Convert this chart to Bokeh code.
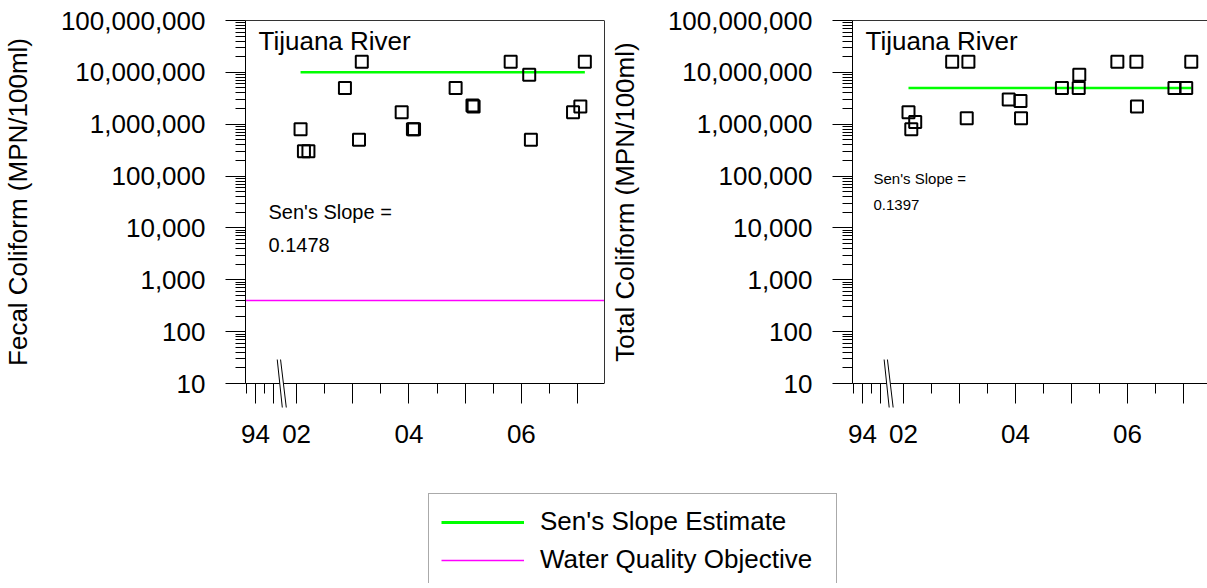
from bokeh.plotting import figure
from bokeh.models import (Range1d, FixedTicker, NumeralTickFormatter, Label,
                          Legend, LegendItem, LogAxis, LinearAxis)
from bokeh.layouts import column, row
from bokeh.embed import file_html
from bokeh.resources import INLINE

# ---------------- data ----------------
SITE = "Tijuana River"

fc_dates = [2002.07, 2002.13, 2002.21, 2002.86, 2003.11, 2003.16, 2003.87, 2004.07, 2004.09,
            2004.83, 2005.13, 2005.15, 2005.81, 2006.14, 2006.17, 2006.92, 2007.05, 2007.13]
fc_values = [800000, 300000, 300000, 5000000, 500000, 16000000, 1700000, 800000, 800000,
             5000000, 2300000, 2200000, 16000000, 9000000, 500000, 1700000, 2200000, 16000000]
fc_sen_level = 10000000
fc_sen_slope = "0.1478"
fc_wqo = 400

tc_dates = [2002.09, 2002.14, 2002.21, 2002.87, 2003.13, 2003.16, 2003.88, 2004.09, 2004.10,
            2004.83, 2005.13, 2005.14, 2005.82, 2006.16, 2006.17, 2006.84, 2007.05, 2007.14]
tc_values = [1700000, 800000, 1100000, 16000000, 1300000, 16000000, 3000000, 2800000, 1300000,
             5000000, 5000000, 9000000, 16000000, 16000000, 2200000, 5000000, 5000000, 16000000]
tc_sen_level = 5000000
tc_sen_slope = "0.1397"

y_min, y_max = 10, 1e8
y_major = [10 ** k for k in range(1, 9)]
y_minor = [m * 10 ** k for k in range(1, 8) for m in range(2, 10)]
x_major = [2001.268, 2001.59, 2002, 2003, 2004, 2005, 2006, 2007]
x_labels = ["94", "", "02", "", "04", "", "06", ""]
x_minor = [2001.107, 2001.43, 2002.5, 2003.5, 2004.5, 2005.5, 2006.5]
x_start = 2001.09

# axis-break decoration ("//" across the x axis), in axis units
break_top, break_bottom = 29.0, 3.445
break_x0 = [2001.655, 2001.714]   # tops of the two strokes
break_x1 = [2001.745, 2001.816]   # bottoms of the two strokes

FONT = "Liberation Sans"
GREEN = "#00FF00"
MAGENTA = "#FF00FF"
FRAME = "#333333"

# layout: the frame covers the whole figure; the axes sit at fixed data positions inside it
LEFT_PX = 245                  # room left of the y axis (tick labels, axis title)
TOP_PX = 20                    # room above the top of the axes
BELOW_PX = 87                  # room under the x axis (ticks, break, tick labels)
DECADE_PX = 363 / 7            # pixels per decade
y_floor = 10 ** (1 - BELOW_PX / DECADE_PX)
y_ceiling = 10 ** (8 + TOP_PX / DECADE_PX)
FRAME_H = TOP_PX + 363 + BELOW_PX


def bare_axis(cls, **kw):
    return cls(ticker=FixedTicker(ticks=[]), axis_line_color=FRAME, major_tick_out=0,
               major_tick_in=0, minor_tick_out=0, minor_tick_in=0, major_label_standoff=0,
               major_label_text_font_size="0px", **kw)


def make_plot(dates, values, ylabel, sen_level, slope, slope_size, slope_lh, slope_xy,
              x_end, fw, br, wqo=None, right_edge=True):
    px_per_year = fw / (x_end - x_start)
    x_lo = x_start - LEFT_PX / px_per_year
    p = figure(frame_width=fw + LEFT_PX, frame_height=FRAME_H, x_range=Range1d(x_lo, x_end),
               y_range=Range1d(y_floor, y_ceiling), y_axis_type="log", output_backend="svg",
               toolbar_location=None, min_border_left=0, min_border_right=br,
               min_border_top=0, min_border_bottom=0, background_fill_color="white")
    p.grid.visible = False
    p.outline_line_color = None
    xa = p.below[0]
    ya = p.left[0]

    # top edge of the box
    p.add_layout(bare_axis(LinearAxis, fixed_location=y_max, bounds=(x_start, x_end)), "above")
    # right edge of the box
    if right_edge:
        p.add_layout(bare_axis(LogAxis, bounds=(y_min, y_max)), "right")

    # y axis
    ya.fixed_location = x_start
    ya.bounds = (y_min, y_max)
    ya.ticker = FixedTicker(ticks=y_major, minor_ticks=y_minor)
    ya.formatter = NumeralTickFormatter(format="0,0")
    ya.major_tick_out = 20
    ya.major_tick_in = 0
    ya.minor_tick_out = 10
    ya.minor_tick_in = 0
    ya.major_label_standoff = 20
    ya.major_label_text_font = FONT
    ya.major_label_text_font_size = "26px"
    ya.major_label_text_color = "black"
    ya.axis_line_color = "black"
    ya.major_tick_line_color = "black"
    ya.minor_tick_line_color = "black"
    ya.axis_label = ylabel
    ya.axis_label_text_font = FONT
    ya.axis_label_text_font_size = "26px"
    ya.axis_label_text_font_style = "normal"
    ya.axis_label_text_color = "black"
    ya.axis_label_standoff = 25

    # x axis, sitting at y = 10
    xa.fixed_location = y_min
    xa.bounds = (x_start, x_end)
    xa.ticker = FixedTicker(ticks=x_major, minor_ticks=x_minor)
    xa.major_label_overrides = {t: lab for t, lab in zip(x_major, x_labels)}
    xa.major_tick_out = 20
    xa.major_tick_in = 0
    xa.minor_tick_out = 10
    xa.minor_tick_in = 0
    xa.major_label_standoff = 21
    xa.major_label_text_font = FONT
    xa.major_label_text_font_size = "26px"
    xa.major_label_text_color = "black"
    xa.axis_line_color = "black"
    xa.major_tick_line_color = "black"
    xa.minor_tick_line_color = "black"

    # axis break
    gap = p.patch(x=[break_x0[0], break_x0[1], break_x1[1], break_x1[0]],
                  y=[break_top, break_top, break_bottom, break_bottom],
                  fill_color="white", line_color=None)
    gap.level = "overlay"
    strokes = p.segment(x0=break_x0, y0=[break_top] * 2, x1=break_x1, y1=[break_bottom] * 2,
                        line_color="black", line_width=1)
    strokes.level = "overlay"

    # water quality objective (across the whole box)
    if wqo is not None:
        p.line(x=[x_start, x_end], y=[wqo, wqo], line_color=MAGENTA, line_width=1.5)

    # Sen's slope estimate
    p.line(x=[dates[0], dates[-1]], y=[sen_level, sen_level], line_color=GREEN, line_width=2.5)

    # samples
    p.scatter(x=dates, y=values, marker="square", size=12, fill_color=None,
              line_color="black", line_width=2)

    p.add_layout(Label(x=LEFT_PX + 13, y=343 + BELOW_PX, x_units="screen", y_units="screen",
                       text=SITE, text_baseline="middle", text_font=FONT,
                       text_font_size="26px", text_color="black"))
    p.add_layout(Label(x=LEFT_PX + slope_xy[0], y=slope_xy[1] + BELOW_PX, x_units="screen",
                       y_units="screen", text="Sen's Slope =\n" + slope,
                       text_baseline="middle", text_font=FONT, text_font_size=slope_size,
                       text_color="black", text_line_height=slope_lh))
    return p


p1 = make_plot(fc_dates, fc_values, "Fecal Coliform (MPN/100ml)", fc_sen_level, fc_sen_slope,
               "20px", 1.5, (23, 155), 2007.48, 359, 3, wqo=fc_wqo, right_edge=True)
p2 = make_plot(tc_dates, tc_values, "Total Coliform (MPN/100ml)", tc_sen_level, tc_sen_slope,
               "15px", 1.5, (21, 192), 2007.43, 355, 0, wqo=None, right_edge=False)

# legend panel (its line renderers lie outside the panel's ranges; only the keys show)
p3 = figure(width=1207, height=113, x_range=Range1d(0, 1), y_range=Range1d(0, 1),
            x_axis_location=None, y_axis_location=None, output_backend="svg",
            toolbar_location=None, min_border=0)
p3.grid.visible = False
p3.outline_line_color = None
r_sen = p3.line(x=[fc_dates[0], fc_dates[-1]], y=[fc_sen_level, fc_sen_level],
                line_color=GREEN, line_width=3)
r_wqo = p3.line(x=[fc_dates[0], fc_dates[-1]], y=[fc_wqo, fc_wqo],
                line_color=MAGENTA, line_width=1.5)
legend = Legend(items=[LegendItem(label="Sen's Slope Estimate", renderers=[r_sen]),
                       LegendItem(label="Water Quality Objective", renderers=[r_wqo])],
                location=(428, -5), glyph_width=83, glyph_height=30, label_height=30,
                label_width=284, label_standoff=16, spacing=7, padding=12, margin=0,
                label_text_font=FONT, label_text_font_size="26px", label_text_color="black",
                border_line_color="#555555", border_line_width=1, background_fill_alpha=1)
p3.add_layout(legend)

layout = column(row(p1, p2), p3)
open("out.html", "w").write(file_html(layout, INLINE))
